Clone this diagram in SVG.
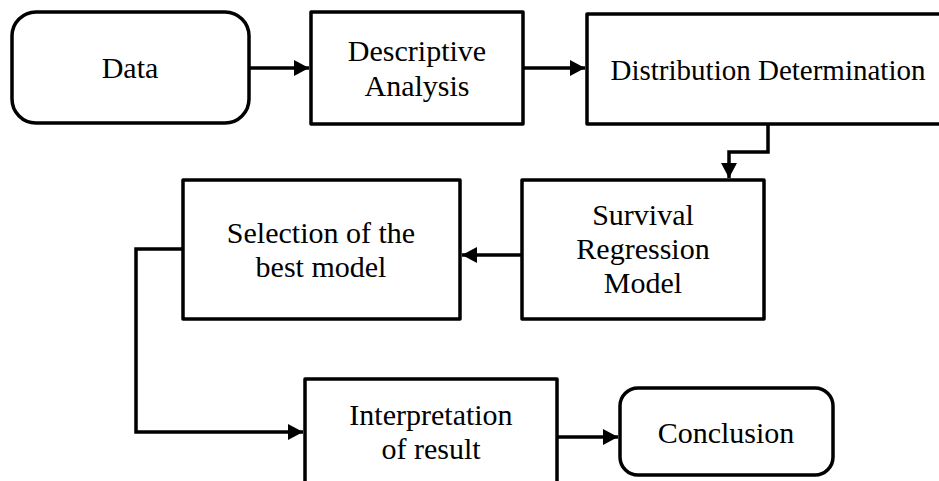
<svg xmlns="http://www.w3.org/2000/svg" width="939" height="481" viewBox="0 0 939 481">
<style>
.box{fill:#fff;stroke:#000;stroke-width:3.5;stroke-linejoin:round}
.lbl{font-family:"Liberation Serif","Times New Roman",serif;font-size:30px;fill:#000;text-anchor:middle}
.tnr{font-size:29px}
.edge{fill:none;stroke:#000;stroke-width:3.5;stroke-linejoin:miter}
</style>
<defs>
<marker id="ah" markerUnits="userSpaceOnUse" markerWidth="16" markerHeight="18" viewBox="0 0 16 18" refX="15" refY="9" orient="auto">
<path d="M0,1 L15,9 L0,17 Z" fill="#000"/>
</marker>
</defs>
<rect width="939" height="481" fill="#fff"/>
<g id="connectors">
<path class="edge" d="M249,68 H309" marker-end="url(#ah)"/>
<path class="edge" d="M523,68 H585" marker-end="url(#ah)"/>
<path class="edge" d="M768,124 V152 H729 V178" marker-end="url(#ah)"/>
<path class="edge" d="M522,255 H462" marker-end="url(#ah)"/>
<path class="edge" d="M183,249 H136 V432 H303" marker-end="url(#ah)"/>
<path class="edge" d="M557,437 H618" marker-end="url(#ah)"/>
</g>
<g id="data">
<rect class="box" x="12" y="12" width="237" height="111" rx="24"/>
<text class="lbl" x="130" y="78">Data</text>
</g>
<g id="descriptive">
<rect class="box" x="311" y="12" width="212" height="112"/>
<text class="lbl" x="417" y="61">Descriptive</text>
<text class="lbl" x="417" y="96">Analysis</text>
</g>
<g id="distribution">
<rect class="box" x="587" y="14" width="370" height="110"/>
<text class="lbl tnr" x="768" y="80">Distribution Determination</text>
</g>
<g id="survival">
<rect class="box" x="522" y="180" width="242" height="139"/>
<text class="lbl" x="643" y="225">Survival</text>
<text class="lbl" x="643" y="259">Regression</text>
<text class="lbl" x="643" y="293">Model</text>
</g>
<g id="selection">
<rect class="box" x="183" y="180" width="277" height="139"/>
<text class="lbl" x="321" y="243">Selection of the</text>
<text class="lbl" x="321" y="277">best model</text>
</g>
<g id="interpretation">
<rect class="box" x="305" y="379" width="252" height="130"/>
<text class="lbl" x="431" y="425">Interpretation</text>
<text class="lbl" x="431" y="459">of result</text>
</g>
<g id="conclusion">
<rect class="box" x="620" y="388" width="213" height="87" rx="18"/>
<text class="lbl" x="726" y="443">Conclusion</text>
</g>
</svg>
